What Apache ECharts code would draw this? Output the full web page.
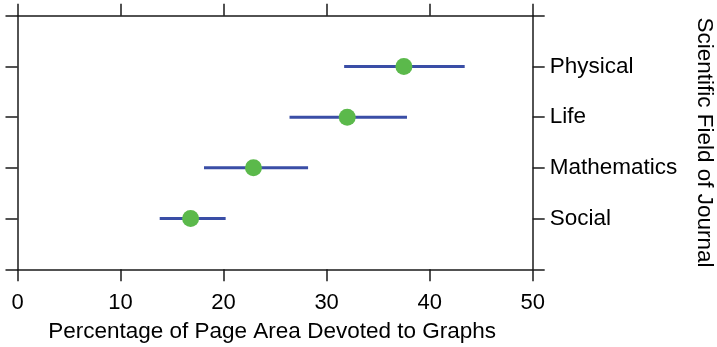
<!DOCTYPE html>
<html><head><meta charset="utf-8">
<script src="https://cdn.jsdelivr.net/npm/echarts@6/dist/echarts.min.js"></script>
<style>html,body{margin:0;padding:0;background:#fff}#c{width:717px;height:347px}</style>
</head><body><div id="c"></div>
<script>
const categories = ['Social', 'Mathematics', 'Life', 'Physical'];
const centers = [16.8, 22.9, 32.0, 37.5];
const lows = [13.8, 18.1, 26.4, 31.7];
const highs = [20.2, 28.2, 37.8, 43.4];
const xTicks = [0, 10, 20, 30, 40, 50];

const FONT = 'Liberation Sans, Arial, sans-serif';
const AX = '#1a1a1a';
const chart = echarts.init(document.getElementById('c'), null, {renderer: 'canvas'});
const barData = categories.map((c, i) => [lows[i], highs[i], i + 1]);
const dotData = categories.map((c, i) => [centers[i], i + 1]);
const common = {
  axisLine: {show: true, onZero: false, lineStyle: {color: AX, width: 1.5}},
  axisTick: {show: true, inside: false, length: 12, lineStyle: {color: AX, width: 1.5}},
  splitLine: {show: false}
};
chart.setOption({
  animation: false,
  grid: {left: 17.5, right: 184.3, top: 15.7, bottom: 77.7, containLabel: false, outerBoundsMode: 'none'},
  xAxis: [
    Object.assign({type: 'value', position: 'bottom', min: 0, max: 50, interval: 10,
      axisLabel: {color: '#000', fontSize: 22, fontFamily: FONT, margin: 23,
        formatter: v => xTicks.includes(v) ? String(v) : ''},
      name: 'Percentage of Page Area Devoted to Graphs', nameLocation: 'middle', nameGap: 51,
      nameTextStyle: {color: '#000', fontSize: 22.5, fontFamily: FONT, padding: [0, 6, 0, 0]}}, common),
    Object.assign({type: 'value', position: 'top', min: 0, max: 50, interval: 10,
      axisLabel: {show: false}}, common)
  ],
  yAxis: [
    Object.assign({type: 'value', position: 'left', min: 0, max: 5, interval: 1,
      axisLabel: {show: false}}, common),
    Object.assign({type: 'value', position: 'right', min: 0, max: 5, interval: 1,
      axisLabel: {color: '#000', fontSize: 22.5, fontFamily: FONT, margin: 17,
        formatter: v => categories[v - 1] || ''},
      name: 'Scientific Field of Journal', nameLocation: 'middle', nameRotate: -90, nameGap: 160,
      nameTextStyle: {color: '#000', fontSize: 22.5, fontFamily: FONT}}, common)
  ],
  series: [
    {
      type: 'custom', xAxisIndex: 0, yAxisIndex: 0, data: barData,
      encode: {x: [0, 1], y: 2},
      renderItem: function (params, api) {
        const p1 = api.coord([api.value(0), api.value(2)]);
        const p2 = api.coord([api.value(1), api.value(2)]);
        return {type: 'line', shape: {x1: p1[0], y1: p1[1], x2: p2[0], y2: p2[1]},
          style: {stroke: '#3a4ea6', lineWidth: 3}};
      }
    },
    {
      type: 'scatter', xAxisIndex: 0, yAxisIndex: 0, data: dotData,
      symbolSize: 17, itemStyle: {color: '#5bb94b', opacity: 1}, z: 5
    }
  ]
});
</script></body></html>
